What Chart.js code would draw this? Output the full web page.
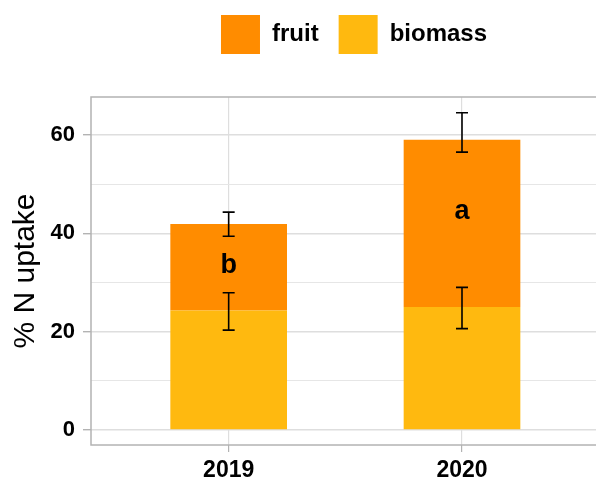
<!DOCTYPE html>
<html>
<head>
<meta charset="utf-8">
<script src="https://cdn.jsdelivr.net/npm/chart.js@4.4.1/dist/chart.umd.min.js"></script>
<style>
  html, body { margin: 0; padding: 0; background: #fff; overflow: hidden; }
  #wrap { width: 596px; height: 481px; overflow: hidden; }
  canvas { display: block; }
</style>
</head>
<body>
<div id="wrap"><canvas id="c" width="605" height="481"></canvas></div>
<script>
// ---- data ----
const years = ['2019', '2020'];
const xPositions = [1, 2];
const biomass = [24.3, 25.0];
const fruit = [17.6, 34.0];
const biomassLow = [20.3, 20.6];
const biomassHigh = [27.9, 29.0];
const totalLow = [39.4, 56.5];
const totalHigh = [44.3, 64.5];
const letters = ['b', 'a'];
const letterY = [33.4, 44.5];
const yTicks = [0, 10, 20, 30, 40, 50, 60];

const FONT = "'Liberation Sans', Arial, sans-serif";

const errorBars = {
  id: 'errorBars',
  afterDatasetsDraw(chart) {
    const {ctx, scales: {x, y}} = chart;
    ctx.save();
    ctx.strokeStyle = '#000';
    ctx.lineWidth = 1.6;
    const cap = 6;
    const draw = (xv, lo, hi) => {
      const px = x.getPixelForValue(xv);
      const p1 = y.getPixelForValue(lo), p2 = y.getPixelForValue(hi);
      ctx.beginPath();
      ctx.moveTo(px, p1); ctx.lineTo(px, p2);
      ctx.moveTo(px - cap, p1); ctx.lineTo(px + cap, p1);
      ctx.moveTo(px - cap, p2); ctx.lineTo(px + cap, p2);
      ctx.stroke();
    };
    xPositions.forEach((xv, i) => {
      draw(xv, biomassLow[i], biomassHigh[i]);
      draw(xv, totalLow[i], totalHigh[i]);
    });
    ctx.fillStyle = '#000';
    ctx.font = "bold 27px " + FONT;
    ctx.textAlign = 'center';
    ctx.textBaseline = 'middle';
    xPositions.forEach((xv, i) => {
      ctx.fillText(letters[i], x.getPixelForValue(xv), y.getPixelForValue(letterY[i]));
    });
    ctx.restore();
  }
};

const panelBorder = {
  id: 'panelBorder',
  afterDraw(chart) {
    const {ctx, chartArea: a} = chart;
    ctx.save();
    ctx.strokeStyle = '#B3B3B3';
    ctx.lineWidth = 1.5;
    ctx.strokeRect(a.left, a.top, a.right - a.left, a.bottom - a.top);
    ctx.restore();
  }
};

const legendPlace = {
  id: 'legendPlace',
  afterLayout(chart) {
    const lg = chart.legend;
    lg.left += 53; lg.right += 53;
    lg.top -= 33; lg.bottom -= 33;
  }
};

new Chart(document.getElementById('c'), {
  type: 'bar',
  data: {
    datasets: [
      { label: 'biomass', data: xPositions.map((xv, i) => ({x: xv, y: biomass[i]})),
        backgroundColor: '#FFB90F', borderWidth: 0 },
      { label: 'fruit', data: xPositions.map((xv, i) => ({x: xv, y: fruit[i]})),
        backgroundColor: '#FF8C00', borderWidth: 0 }
    ]
  },
  options: {
    responsive: false,
    devicePixelRatio: 1,
    animation: false,
    layout: { padding: { top: 28, right: 3, bottom: 0, left: 0 } },
    datasets: { bar: { categoryPercentage: 0.5, barPercentage: 1.0 } },
    plugins: {
      tooltip: { enabled: false },
      legend: {
        position: 'top',
        reverse: true,
        labels: {
          boxWidth: 39, boxHeight: 39, padding: 20, color: '#000',
          font: { family: FONT, size: 24, weight: 'bold' }
        }
      }
    },
    scales: {
      x: {
        type: 'linear', stacked: true, min: 0.41, max: 2.6, offset: false,
        afterBuildTicks(s) { s.ticks = xPositions.map(v => ({value: v})); },
        afterFit(s) { s.height = 36; },
        ticks: {
          callback: (v) => years[xPositions.indexOf(v)] ?? '',
          color: '#000', padding: 5, maxRotation: 0, autoSkip: false,
          font: { family: FONT, size: 23, weight: 'bold' }
        },
        grid: { offset: false, color: '#DEDEDE', lineWidth: 1.2, tickLength: 7, tickColor: '#B3B3B3' },
        border: { display: false }
      },
      y: {
        stacked: true, min: -3.05, max: 67.7,
        afterBuildTicks(s) { s.ticks = yTicks.map(v => ({value: v})); },
        afterFit(s) { s.width = 91; },
        ticks: {
          callback: (v) => (v % 20 === 0 ? String(v) : ''),
          color: '#000', padding: 8,
          font: { family: FONT, size: 22, weight: 'bold' }
        },
        grid: {
          color: (c) => (c.tick && c.tick.value % 20 === 0 ? '#DEDEDE' : '#E6E6E6'),
          lineWidth: (c) => (c.tick && c.tick.value % 20 === 0 ? 1.4 : 1),
          tickLength: 8,
          tickColor: (c) => (c.tick && c.tick.value % 20 === 0 ? '#B3B3B3' : 'rgba(0,0,0,0)')
        },
        border: { display: false },
        title: {
          display: true, text: '% N uptake', color: '#000',
          font: { family: FONT, size: 30, weight: 'normal' },
          padding: { top: 8, bottom: 0 }
        }
      }
    }
  },
  plugins: [errorBars, panelBorder, legendPlace]
});
</script>
</body>
</html>
